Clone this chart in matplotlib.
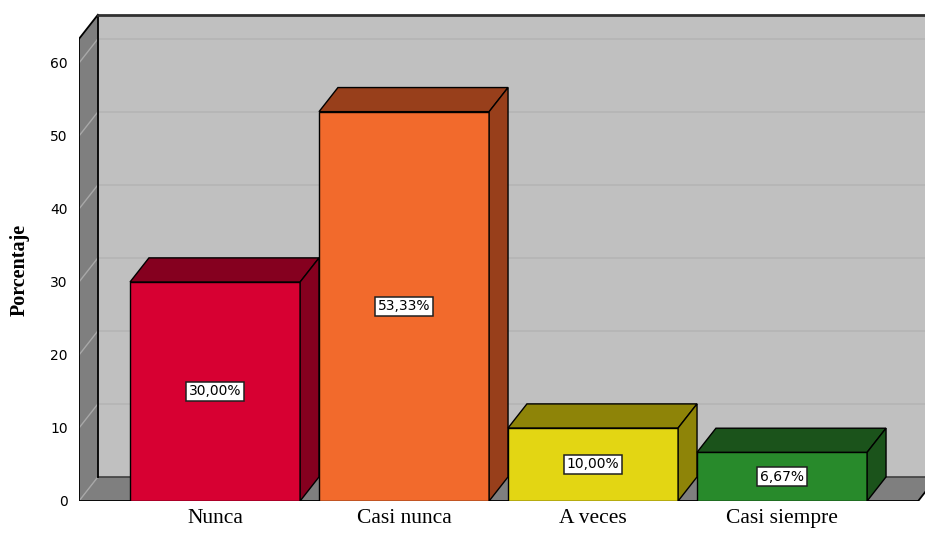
import matplotlib.pyplot as plt
from matplotlib.patches import Polygon

# datos
categorias = ['Nunca', 'Casi nunca', 'A veces', 'Casi siempre']
porcentajes = [30.00, 53.33, 10.00, 6.67]
etiquetas = ['30,00%', '53,33%', '10,00%', '6,67%']
color_frente = ['#D70032', '#F26A2C', '#E3D613', '#288A2B']
color_sombra = ['#85001F', '#983F1B', '#8E8408', '#1B531B']
ticks_y = [0, 10, 20, 30, 40, 50, 60]

# geometria del efecto 3D (unidades de datos)
ancho = 0.9
dx, dy = 0.1, 3.3
x_izq, x_der = -0.72, 3.72
y_max = 63.3

fig = plt.figure(figsize=(9.25, 5.33), dpi=100)
ax = fig.add_axes([79 / 925, 32 / 533, 846 / 925, 0.915])
ax.set_xlim(x_izq, x_izq + 846 / 189)
ax.set_ylim(0, 66.8)
for s in ax.spines.values():
    s.set_visible(False)

pared_osc = '#7F7F7F'
pared_clara = '#C0C0C0'

# pared del fondo
ax.add_patch(Polygon([(x_izq + dx, dy), (x_der + dx + 1, dy),
                      (x_der + dx + 1, y_max + dy), (x_izq + dx, y_max + dy)],
                     closed=True, facecolor=pared_clara, edgecolor='none', zorder=1))
# pared izquierda
ax.add_patch(Polygon([(x_izq, 0), (x_izq + dx, dy), (x_izq + dx, y_max + dy), (x_izq, y_max)],
                     closed=True, facecolor=pared_osc, edgecolor='none', zorder=1))
# suelo
ax.add_patch(Polygon([(x_izq, 0), (x_der, 0), (x_der + dx, dy), (x_izq + dx, dy)],
                     closed=True, facecolor=pared_osc, edgecolor='none', zorder=1))

# lineas de cuadricula
for v in ticks_y:
    ax.plot([x_izq, x_izq + dx], [v, v + dy], color='#A8A8A8', lw=1, zorder=2)
    if v > 0:
        ax.plot([x_izq + dx, x_der + dx + 1], [v + dy, v + dy], color='#B3B3B3', lw=1.1, zorder=2)

# bordes
ax.plot([x_izq + dx, x_der + dx + 1], [dy, dy], color='#404040', lw=1.2, zorder=2)
ax.plot([x_izq, x_izq], [0, y_max], color='black', lw=1.3, zorder=3)
ax.plot([x_izq, x_izq + dx], [y_max, y_max + dy], color='black', lw=1.3, zorder=3)
ax.plot([x_izq + dx, x_izq + dx], [dy, y_max + dy], color='black', lw=1.3, zorder=3)
ax.plot([x_izq + dx, x_der + dx + 1], [y_max + dy, y_max + dy], color='#303030', lw=2, zorder=3)
ax.plot([x_izq, x_der], [0, 0], color='black', lw=1.3, zorder=3)
ax.plot([x_der, x_der + dx], [0, dy], color='black', lw=1.3, zorder=3)

# barras 3D
for i, (v, cf, cs, et) in enumerate(zip(porcentajes, color_frente, color_sombra, etiquetas)):
    x0, x1 = i - ancho / 2, i + ancho / 2
    ax.add_patch(Polygon([(x0, 0), (x1, 0), (x1, v), (x0, v)], closed=True,
                         facecolor=cf, edgecolor='black', lw=1, zorder=4))
    ax.add_patch(Polygon([(x0, v), (x1, v), (x1 + dx, v + dy), (x0 + dx, v + dy)], closed=True,
                         facecolor=cs, edgecolor='black', lw=1, zorder=4))
    ax.add_patch(Polygon([(x1, 0), (x1 + dx, dy), (x1 + dx, v + dy), (x1, v)], closed=True,
                         facecolor=cs, edgecolor='black', lw=1, zorder=4))
    ax.text(i, v / 2, et, ha='center', va='center', fontsize=10, family='DejaVu Sans', zorder=5,
            bbox=dict(boxstyle='square,pad=0.2', facecolor='white', edgecolor='#202020', lw=1.1))

ax.set_yticks(ticks_y)
ax.set_yticklabels([str(t) for t in ticks_y], fontsize=10)
ax.set_xticks(range(len(categorias)))
ax.set_xticklabels(categorias, fontsize=15.5, family='Liberation Serif')
ax.tick_params(axis='both', length=0)
ax.tick_params(axis='y', pad=8)
ax.tick_params(axis='x', pad=6)

fig.text(20 / 925, 0.4934, 'Porcentaje', rotation=90, ha='center', va='center',
         fontsize=14.5, fontweight='bold', family='Liberation Serif')

fig.savefig('out.png', dpi=100)
